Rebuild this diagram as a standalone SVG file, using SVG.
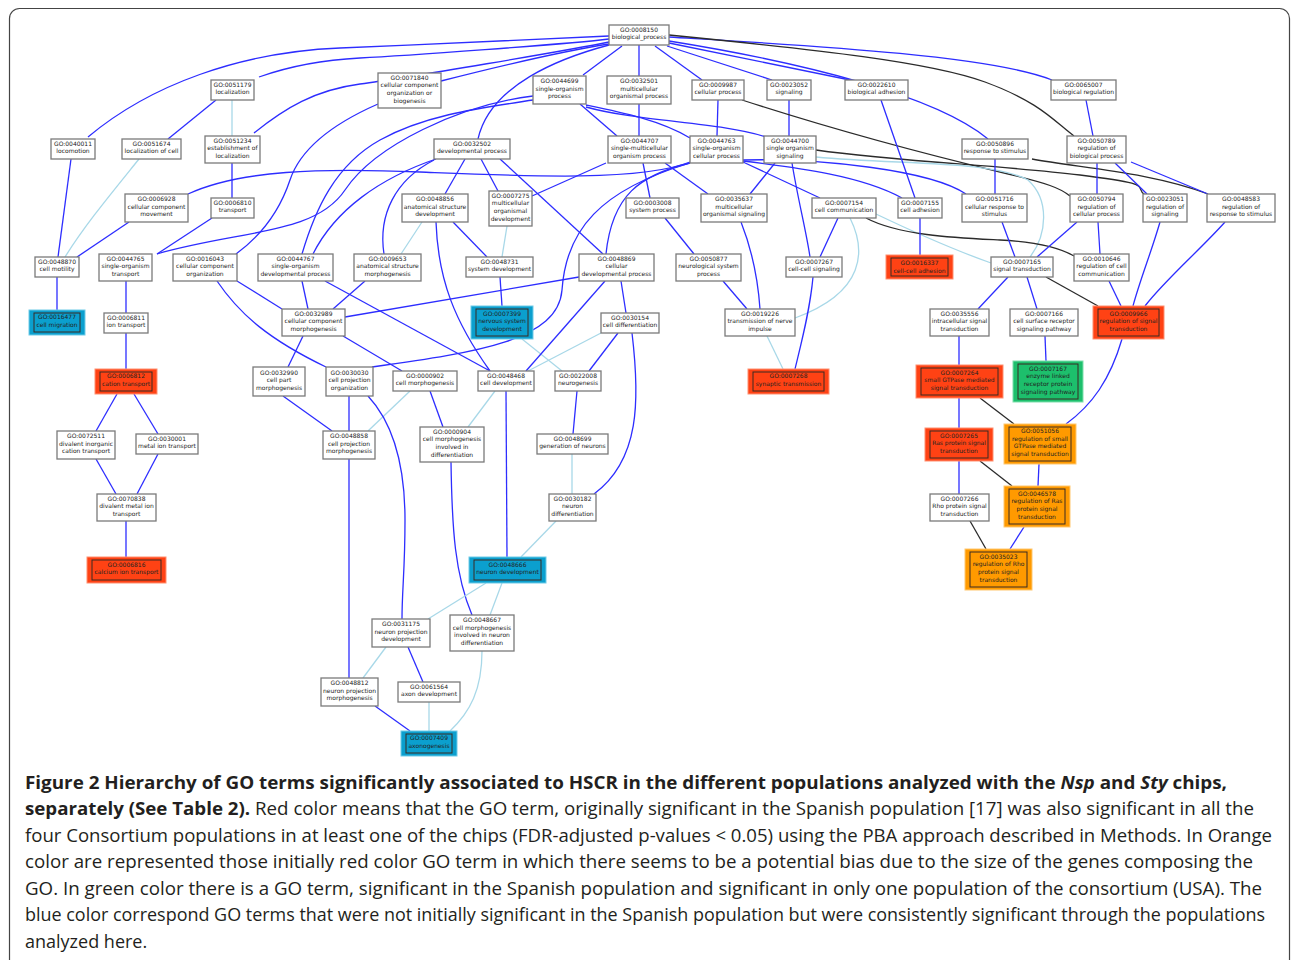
<svg xmlns="http://www.w3.org/2000/svg" width="1293" height="960" viewBox="0 0 1293 960">
<style>
.b{fill:#fff;stroke:#7a7a7a;stroke-width:1.3}
.t{font-family:"DejaVu Sans",sans-serif;font-size:6px;fill:#222;text-anchor:middle}
.e path{fill:none;stroke-width:1.3}
.e .bl{stroke:#2d2dff}
.e .lb{stroke:#a8d8e8}
.e .bk{stroke:#2b2b2b}
.red{fill:#ff4214;stroke:#ff8f70;stroke-width:1}
.blu{fill:#0b9fce;stroke:#6fcbe8;stroke-width:1}
.grn{fill:#1dbf6c;stroke:#7fe0ad;stroke-width:1}
.org{fill:#ff9a00;stroke:#ffc870;stroke-width:1}
.inr{fill:none;stroke:#3a2a22;stroke-width:1}
.cap{font-family:"Open Sans",sans-serif;font-size:18px;fill:#231f20}
</style>
<rect x="9.5" y="8.5" width="1280" height="975" rx="10" fill="none" stroke="#444" stroke-width="1.2"/>
<g id="connectors" class="e">
<path class="bl" d="M88,137 C150,85 240,52 340,48 S560,38 609,36"/>
<path class="bl" d="M259,77 C290,66 320,60 360,58 S570,44 609,39"/>
<path class="bl" d="M254,133 C285,108 315,90 360,84 S570,50 609,42"/>
<path class="bl" d="M441,81 C500,66 570,50 609,44"/>
<path class="bl" d="M622,46 L583,75"/>
<path class="bl" d="M639,45 L639,76"/>
<path class="bl" d="M609,45 C560,58 490,85 478,139"/>
<path class="bl" d="M655,46 L702,80"/>
<path class="bl" d="M667,46 L772,80"/>
<path class="bl" d="M669,43 L850,80"/>
<path class="bl" d="M669,41 C800,62 935,95 988,139"/>
<path class="bl" d="M669,37 C800,45 990,55 1052,80"/>
<path class="bk" d="M669,35 C820,50 930,62 985,82 S1055,122 1074,136"/>
<path class="bl" d="M580,104 L617,136"/>
<path class="bl" d="M586,105 C620,112 660,120 690,138"/>
<path class="bl" d="M586,107 C640,122 720,122 766,137"/>
<path class="bl" d="M157,254 C240,230 315,235 345,190 S460,105 533,96"/>
<path class="bl" d="M302,254 C315,210 335,165 380,140 S480,108 533,100"/>
<path class="bl" d="M313,254 C335,210 380,178 436,159"/>
<path class="bl" d="M434,160 C395,180 378,215 384,254"/>
<path class="bl" d="M378,104 C330,125 300,150 290,180 S262,235 236,254"/>
<path class="bl" d="M188,194 C240,170 320,168 420,172 S640,182 690,162"/>
<path class="bl" d="M690,163 C640,175 612,195 606,254"/>
<path class="bl" d="M690,163 C600,190 566,230 562,290 C558,340 480,352 372,367"/>
<path class="bl" d="M743,162 L820,198"/>
<path class="bl" d="M743,161 C800,168 862,176 902,198"/>
<path class="bl" d="M743,160 C820,158 930,170 966,194"/>
<path class="bl" d="M718,100 L717,136"/>
<path class="bl" d="M789,100 L789,136"/>
<path class="bl" d="M639,104 L639,136"/>
<path class="bk" d="M742,100 C850,135 950,160 1000,172 S1060,188 1070,196"/>
<path class="bk" d="M816,150 C900,162 1000,165 1080,175 S1132,186 1145,195"/>
<path class="lb" d="M816,157 C900,165 990,160 1028,180 C1050,200 1047,235 1030,257"/>
<path class="lb" d="M876,214 C920,235 960,252 991,263"/>
<path class="bk" d="M866,218 C900,236 960,238 1000,240 S1060,248 1074,256"/>
<path class="bl" d="M643,163 L650,198"/>
<path class="bl" d="M606,163 L532,196"/>
<path class="bl" d="M665,163 L708,194"/>
<path class="bl" d="M775,163 L750,194"/>
<path class="bl" d="M792,163 C798,200 806,230 810,257"/>
<path class="bl" d="M838,218 L820,257"/>
<path class="bl" d="M881,100 L915,198"/>
<path class="bl" d="M920,218 L920,255"/>
<path class="bl" d="M665,218 L694,254"/>
<path class="bl" d="M723,281 L747,309"/>
<path class="bl" d="M741,222 C752,250 758,280 760,309"/>
<path class="lb" d="M850,218 C866,250 866,292 795,318"/>
<path class="bl" d="M813,277 C810,310 802,340 795,369"/>
<path class="lb" d="M767,336 L783,369"/>
<path class="bl" d="M1086,100 L1093,136"/>
<path class="bl" d="M995,159 L995,194"/>
<path class="bk" d="M1032,159 C1080,168 1150,172 1208,194"/>
<path class="bl" d="M1097,163 L1097,194"/>
<path class="bl" d="M1115,163 L1147,194"/>
<path class="bl" d="M1131,162 L1208,194"/>
<path class="bl" d="M1002,222 L1015,257"/>
<path class="bl" d="M1077,222 L1037,257"/>
<path class="bl" d="M1098,222 L1100,254"/>
<path class="bk" d="M1046,277 L1098,306"/>
<path class="bl" d="M1109,281 L1121,306"/>
<path class="bl" d="M1160,222 C1152,250 1140,280 1133,306"/>
<path class="bl" d="M1225,222 C1200,250 1165,280 1145,306"/>
<path class="bl" d="M1008,277 L978,309"/>
<path class="bl" d="M1027,277 L1037,309"/>
<path class="bl" d="M1045,336 L1046,361"/>
<path class="bl" d="M1122,339 C1110,380 1092,405 1066,424"/>
<path class="bl" d="M959,336 L959,365"/>
<path class="bl" d="M959,398 L959,428"/>
<path class="bl" d="M959,461 L959,494"/>
<path class="bk" d="M980,398 L1014,424"/>
<path class="bk" d="M980,461 L1012,486"/>
<path class="bl" d="M1039,464 L1038,486"/>
<path class="bk" d="M970,521 L986,549"/>
<path class="bl" d="M1024,527 L1010,549"/>
<path class="bl" d="M216,100 L168,139"/>
<path class="lb" d="M232,100 L232,136"/>
<path class="bl" d="M71,159 L58,257"/>
<path class="lb" d="M139,159 C110,195 85,225 65,257"/>
<path class="bl" d="M129,222 L77,257"/>
<path class="bl" d="M232,163 L232,198"/>
<path class="bl" d="M212,218 L157,254"/>
<path class="bl" d="M57,277 L57,310"/>
<path class="bl" d="M126,281 L126,313"/>
<path class="bl" d="M126,333 L126,369"/>
<path class="bl" d="M117,394 L96,431"/>
<path class="bl" d="M134,394 L158,434"/>
<path class="bl" d="M96,459 L116,494"/>
<path class="bl" d="M158,454 L137,494"/>
<path class="bl" d="M126,521 L126,557"/>
<path class="bl" d="M237,281 L282,309"/>
<path class="bl" d="M217,281 C240,315 270,340 326,367"/>
<path class="bl" d="M302,281 L308,309"/>
<path class="bl" d="M325,281 L490,371"/>
<path class="bl" d="M365,281 L333,309"/>
<path class="bl" d="M579,277 L345,317"/>
<path class="bl" d="M303,336 L288,367"/>
<path class="bl" d="M343,336 L402,371"/>
<path class="lb" d="M422,222 L401,254"/>
<path class="bl" d="M453,222 L487,257"/>
<path class="lb" d="M507,226 L502,257"/>
<path class="bl" d="M436,222 C438,280 455,322 490,371"/>
<path class="bl" d="M465,159 L445,194"/>
<path class="bl" d="M481,159 L498,191"/>
<path class="bl" d="M500,159 L603,254"/>
<path class="bl" d="M500,277 L502,306"/>
<path class="lb" d="M522,339 L562,371"/>
<path class="bl" d="M621,281 L626,313"/>
<path class="bl" d="M605,281 L526,371"/>
<path class="lb" d="M601,333 L528,371"/>
<path class="bl" d="M618,333 L589,371"/>
<path class="bl" d="M632,333 C640,400 640,460 594,494"/>
<path class="bl" d="M577,391 L573,434"/>
<path class="lb" d="M572,454 L572,494"/>
<path class="bl" d="M283,396 L332,431"/>
<path class="bl" d="M349,396 L349,431"/>
<path class="lb" d="M410,391 L368,431"/>
<path class="bl" d="M430,391 L443,427"/>
<path class="lb" d="M495,391 L468,427"/>
<path class="bl" d="M506,391 L507,557"/>
<path class="bl" d="M368,396 C395,425 405,470 405,520 S402,590 402,619"/>
<path class="bl" d="M451,462 C452,530 455,575 472,615"/>
<path class="lb" d="M556,521 L521,557"/>
<path class="bl" d="M349,459 L349,678"/>
<path class="lb" d="M486,583 L428,619"/>
<path class="lb" d="M502,583 L490,615"/>
<path class="lb" d="M386,647 L363,678"/>
<path class="bl" d="M408,647 L423,682"/>
<path class="bl" d="M375,706 L410,731"/>
<path class="lb" d="M429,702 L429,731"/>
<path class="lb" d="M482,651 C482,690 470,712 450,731"/>
</g>
<g id="n0008150"><rect class="b" x="609" y="25" width="60" height="20"/><text class="t"><tspan x="639" y="31.8">GO:0008150</tspan><tspan x="639" y="39.4">biological_process</tspan></text></g>
<g id="n0071840"><rect class="b" x="378" y="73" width="63" height="35"/><text class="t"><tspan x="409.5" y="79.7">GO:0071840</tspan><tspan x="409.5" y="87.3">cellular component</tspan><tspan x="409.5" y="94.9">organization or</tspan><tspan x="409.5" y="102.5">biogenesis</tspan></text></g>
<g id="n0051179"><rect class="b" x="211" y="80" width="43" height="20"/><text class="t"><tspan x="232.5" y="86.8">GO:0051179</tspan><tspan x="232.5" y="94.4">localization</tspan></text></g>
<g id="n0044699"><rect class="b" x="533" y="76" width="53" height="28"/><text class="t"><tspan x="559.5" y="83">GO:0044699</tspan><tspan x="559.5" y="90.6">single-organism</tspan><tspan x="559.5" y="98.2">process</tspan></text></g>
<g id="n0032501"><rect class="b" x="607" y="76" width="64" height="28"/><text class="t"><tspan x="639" y="83">GO:0032501</tspan><tspan x="639" y="90.6">multicellular</tspan><tspan x="639" y="98.2">organismal process</tspan></text></g>
<g id="n0009987"><rect class="b" x="692" y="80" width="52" height="20"/><text class="t"><tspan x="718" y="86.8">GO:0009987</tspan><tspan x="718" y="94.4">cellular process</tspan></text></g>
<g id="n0023052"><rect class="b" x="767" y="80" width="44" height="20"/><text class="t"><tspan x="789" y="86.8">GO:0023052</tspan><tspan x="789" y="94.4">signaling</tspan></text></g>
<g id="n0022610"><rect class="b" x="845" y="80" width="63" height="20"/><text class="t"><tspan x="876.5" y="86.8">GO:0022610</tspan><tspan x="876.5" y="94.4">biological adhesion</tspan></text></g>
<g id="n0065007"><rect class="b" x="1051" y="80" width="65" height="20"/><text class="t"><tspan x="1083.5" y="86.8">GO:0065007</tspan><tspan x="1083.5" y="94.4">biological regulation</tspan></text></g>
<g id="n0040011"><rect class="b" x="51" y="139" width="44" height="20"/><text class="t"><tspan x="73" y="145.8">GO:0040011</tspan><tspan x="73" y="153.4">locomotion</tspan></text></g>
<g id="n0051674"><rect class="b" x="122" y="139" width="59" height="20"/><text class="t"><tspan x="151.5" y="145.8">GO:0051674</tspan><tspan x="151.5" y="153.4">localization of cell</tspan></text></g>
<g id="n0051234"><rect class="b" x="205" y="136" width="55" height="27"/><text class="t"><tspan x="232.5" y="142.5">GO:0051234</tspan><tspan x="232.5" y="150.1">establishment of</tspan><tspan x="232.5" y="157.7">localization</tspan></text></g>
<g id="n0032502"><rect class="b" x="434" y="139" width="76" height="20"/><text class="t"><tspan x="472" y="145.8">GO:0032502</tspan><tspan x="472" y="153.4">developmental process</tspan></text></g>
<g id="n0044707"><rect class="b" x="608" y="136" width="63" height="27"/><text class="t"><tspan x="639.5" y="142.5">GO:0044707</tspan><tspan x="639.5" y="150.1">single-multicellular</tspan><tspan x="639.5" y="157.7">organism process</tspan></text></g>
<g id="n0044763"><rect class="b" x="690" y="136" width="53" height="27"/><text class="t"><tspan x="716.5" y="142.5">GO:0044763</tspan><tspan x="716.5" y="150.1">single-organism</tspan><tspan x="716.5" y="157.7">cellular process</tspan></text></g>
<g id="n0044700"><rect class="b" x="764" y="136" width="52" height="27"/><text class="t"><tspan x="790" y="142.5">GO:0044700</tspan><tspan x="790" y="150.1">single organism</tspan><tspan x="790" y="157.7">signaling</tspan></text></g>
<g id="n0050896"><rect class="b" x="962" y="139" width="66" height="20"/><text class="t"><tspan x="995" y="145.8">GO:0050896</tspan><tspan x="995" y="153.4">response to stimulus</tspan></text></g>
<g id="n0050789"><rect class="b" x="1067" y="136" width="59" height="27"/><text class="t"><tspan x="1096.5" y="142.5">GO:0050789</tspan><tspan x="1096.5" y="150.1">regulation of</tspan><tspan x="1096.5" y="157.7">biological process</tspan></text></g>
<g id="n0006928"><rect class="b" x="125" y="194" width="63" height="28"/><text class="t"><tspan x="156.5" y="201">GO:0006928</tspan><tspan x="156.5" y="208.6">cellular component</tspan><tspan x="156.5" y="216.2">movement</tspan></text></g>
<g id="n0006810"><rect class="b" x="211" y="198" width="43" height="20"/><text class="t"><tspan x="232.5" y="204.8">GO:0006810</tspan><tspan x="232.5" y="212.4">transport</tspan></text></g>
<g id="n0048856"><rect class="b" x="402" y="194" width="66" height="28"/><text class="t"><tspan x="435" y="201">GO:0048856</tspan><tspan x="435" y="208.6">anatomical structure</tspan><tspan x="435" y="216.2">development</tspan></text></g>
<g id="n0007275"><rect class="b" x="489" y="191" width="43" height="35"/><text class="t"><tspan x="510.5" y="197.7">GO:0007275</tspan><tspan x="510.5" y="205.3">multicellular</tspan><tspan x="510.5" y="212.9">organismal</tspan><tspan x="510.5" y="220.5">development</tspan></text></g>
<g id="n0003008"><rect class="b" x="626" y="198" width="53" height="20"/><text class="t"><tspan x="652.5" y="204.8">GO:0003008</tspan><tspan x="652.5" y="212.4">system process</tspan></text></g>
<g id="n0035637"><rect class="b" x="701" y="194" width="66" height="28"/><text class="t"><tspan x="734" y="201">GO:0035637</tspan><tspan x="734" y="208.6">multicellular</tspan><tspan x="734" y="216.2">organismal signaling</tspan></text></g>
<g id="n0007154"><rect class="b" x="812" y="198" width="64" height="20"/><text class="t"><tspan x="844" y="204.8">GO:0007154</tspan><tspan x="844" y="212.4">cell communication</tspan></text></g>
<g id="n0007155"><rect class="b" x="898" y="198" width="44" height="20"/><text class="t"><tspan x="920" y="204.8">GO:0007155</tspan><tspan x="920" y="212.4">cell adhesion</tspan></text></g>
<g id="n0051716"><rect class="b" x="962" y="194" width="65" height="28"/><text class="t"><tspan x="994.5" y="201">GO:0051716</tspan><tspan x="994.5" y="208.6">cellular response to</tspan><tspan x="994.5" y="216.2">stimulus</tspan></text></g>
<g id="n0050794"><rect class="b" x="1070" y="194" width="53" height="28"/><text class="t"><tspan x="1096.5" y="201">GO:0050794</tspan><tspan x="1096.5" y="208.6">regulation of</tspan><tspan x="1096.5" y="216.2">cellular process</tspan></text></g>
<g id="n0023051"><rect class="b" x="1143" y="194" width="44" height="28"/><text class="t"><tspan x="1165" y="201">GO:0023051</tspan><tspan x="1165" y="208.6">regulation of</tspan><tspan x="1165" y="216.2">signaling</tspan></text></g>
<g id="n0048583"><rect class="b" x="1207" y="194" width="68" height="28"/><text class="t"><tspan x="1241" y="201">GO:0048583</tspan><tspan x="1241" y="208.6">regulation of</tspan><tspan x="1241" y="216.2">response to stimulus</tspan></text></g>
<g id="n0048870"><rect class="b" x="35" y="257" width="44" height="20"/><text class="t"><tspan x="57" y="263.8">GO:0048870</tspan><tspan x="57" y="271.4">cell motility</tspan></text></g>
<g id="n0044765"><rect class="b" x="99" y="254" width="53" height="27"/><text class="t"><tspan x="125.5" y="260.5">GO:0044765</tspan><tspan x="125.5" y="268.1">single-organism</tspan><tspan x="125.5" y="275.7">transport</tspan></text></g>
<g id="n0016043"><rect class="b" x="173" y="254" width="64" height="27"/><text class="t"><tspan x="205" y="260.5">GO:0016043</tspan><tspan x="205" y="268.1">cellular component</tspan><tspan x="205" y="275.7">organization</tspan></text></g>
<g id="n0044767"><rect class="b" x="258" y="254" width="75" height="27"/><text class="t"><tspan x="295.5" y="260.5">GO:0044767</tspan><tspan x="295.5" y="268.1">single-organism</tspan><tspan x="295.5" y="275.7">developmental process</tspan></text></g>
<g id="n0009653"><rect class="b" x="354" y="254" width="67" height="27"/><text class="t"><tspan x="387.5" y="260.5">GO:0009653</tspan><tspan x="387.5" y="268.1">anatomical structure</tspan><tspan x="387.5" y="275.7">morphogenesis</tspan></text></g>
<g id="n0048731"><rect class="b" x="466" y="257" width="67" height="20"/><text class="t"><tspan x="499.5" y="263.8">GO:0048731</tspan><tspan x="499.5" y="271.4">system development</tspan></text></g>
<g id="n0048869"><rect class="b" x="579" y="254" width="75" height="27"/><text class="t"><tspan x="616.5" y="260.5">GO:0048869</tspan><tspan x="616.5" y="268.1">cellular</tspan><tspan x="616.5" y="275.7">developmental process</tspan></text></g>
<g id="n0050877"><rect class="b" x="676" y="254" width="65" height="27"/><text class="t"><tspan x="708.5" y="260.5">GO:0050877</tspan><tspan x="708.5" y="268.1">neurological system</tspan><tspan x="708.5" y="275.7">process</tspan></text></g>
<g id="n0007267"><rect class="b" x="786" y="257" width="56" height="20"/><text class="t"><tspan x="814" y="263.8">GO:0007267</tspan><tspan x="814" y="271.4">cell-cell signaling</tspan></text></g>
<g id="n0016337"><rect class="red" x="886" y="255" width="67" height="24"/><rect class="inr" x="891" y="258" width="57" height="18"/><text class="t"><tspan x="919.5" y="265">GO:0016337</tspan><tspan x="919.5" y="272.6">cell-cell adhesion</tspan></text></g>
<g id="n0007165"><rect class="b" x="991" y="257" width="62" height="20"/><text class="t"><tspan x="1022" y="263.8">GO:0007165</tspan><tspan x="1022" y="271.4">signal transduction</tspan></text></g>
<g id="n0010646"><rect class="b" x="1074" y="254" width="55" height="27"/><text class="t"><tspan x="1101.5" y="260.5">GO:0010646</tspan><tspan x="1101.5" y="268.1">regulation of cell</tspan><tspan x="1101.5" y="275.7">communication</tspan></text></g>
<g id="n0016477"><rect class="blu" x="29" y="310" width="56" height="25"/><rect class="inr" x="34" y="313" width="46" height="19"/><text class="t"><tspan x="57" y="319.3">GO:0016477</tspan><tspan x="57" y="326.9">cell migration</tspan></text></g>
<g id="n0006811"><rect class="b" x="104" y="313" width="44" height="20"/><text class="t"><tspan x="126" y="319.8">GO:0006811</tspan><tspan x="126" y="327.4">ion transport</tspan></text></g>
<g id="n0032989"><rect class="b" x="282" y="309" width="63" height="27"/><text class="t"><tspan x="313.5" y="315.5">GO:0032989</tspan><tspan x="313.5" y="323.1">cellular component</tspan><tspan x="313.5" y="330.7">morphogenesis</tspan></text></g>
<g id="n0007399"><rect class="blu" x="471" y="306" width="62" height="33"/><rect class="inr" x="476" y="309" width="52" height="27"/><text class="t"><tspan x="502" y="315.5">GO:0007399</tspan><tspan x="502" y="323.1">nervous system</tspan><tspan x="502" y="330.7">development</tspan></text></g>
<g id="n0030154"><rect class="b" x="601" y="313" width="58" height="20"/><text class="t"><tspan x="630" y="319.8">GO:0030154</tspan><tspan x="630" y="327.4">cell differentiation</tspan></text></g>
<g id="n0019226"><rect class="b" x="725" y="309" width="70" height="27"/><text class="t"><tspan x="760" y="315.5">GO:0019226</tspan><tspan x="760" y="323.1">transmission of nerve</tspan><tspan x="760" y="330.7">impulse</tspan></text></g>
<g id="n0035556"><rect class="b" x="930" y="309" width="59" height="27"/><text class="t"><tspan x="959.5" y="315.5">GO:0035556</tspan><tspan x="959.5" y="323.1">intracellular signal</tspan><tspan x="959.5" y="330.7">transduction</tspan></text></g>
<g id="n0007166"><rect class="b" x="1010" y="309" width="68" height="27"/><text class="t"><tspan x="1044" y="315.5">GO:0007166</tspan><tspan x="1044" y="323.1">cell surface receptor</tspan><tspan x="1044" y="330.7">signaling pathway</tspan></text></g>
<g id="n0009966"><rect class="red" x="1093" y="306" width="71" height="33"/><rect class="inr" x="1098" y="309" width="61" height="27"/><text class="t"><tspan x="1128.5" y="315.5">GO:0009966</tspan><tspan x="1128.5" y="323.1">regulation of signal</tspan><tspan x="1128.5" y="330.7">transduction</tspan></text></g>
<g id="n0006812"><rect class="red" x="95" y="369" width="62" height="25"/><rect class="inr" x="100" y="372" width="52" height="19"/><text class="t"><tspan x="126" y="378.3">GO:0006812</tspan><tspan x="126" y="385.9">cation transport</tspan></text></g>
<g id="n0032990"><rect class="b" x="253" y="367" width="52" height="29"/><text class="t"><tspan x="279" y="374.5">GO:0032990</tspan><tspan x="279" y="382.1">cell part</tspan><tspan x="279" y="389.7">morphogenesis</tspan></text></g>
<g id="n0030030"><rect class="b" x="326" y="367" width="47" height="29"/><text class="t"><tspan x="349.5" y="374.5">GO:0030030</tspan><tspan x="349.5" y="382.1">cell projection</tspan><tspan x="349.5" y="389.7">organization</tspan></text></g>
<g id="n0000902"><rect class="b" x="393" y="371" width="64" height="20"/><text class="t"><tspan x="425" y="377.8">GO:0000902</tspan><tspan x="425" y="385.4">cell morphogenesis</tspan></text></g>
<g id="n0048468"><rect class="b" x="478" y="371" width="56" height="20"/><text class="t"><tspan x="506" y="377.8">GO:0048468</tspan><tspan x="506" y="385.4">cell development</tspan></text></g>
<g id="n0022008"><rect class="b" x="555" y="371" width="46" height="20"/><text class="t"><tspan x="578" y="377.8">GO:0022008</tspan><tspan x="578" y="385.4">neurogenesis</tspan></text></g>
<g id="n0007268"><rect class="red" x="748" y="369" width="81" height="25"/><rect class="inr" x="753" y="372" width="71" height="19"/><text class="t"><tspan x="788.5" y="378.3">GO:0007268</tspan><tspan x="788.5" y="385.9">synaptic transmission</tspan></text></g>
<g id="n0007264"><rect class="red" x="916" y="365" width="87" height="33"/><rect class="inr" x="921" y="368" width="77" height="27"/><text class="t"><tspan x="959.5" y="374.5">GO:0007264</tspan><tspan x="959.5" y="382.1">small GTPase mediated</tspan><tspan x="959.5" y="389.7">signal transduction</tspan></text></g>
<g id="n0007167"><rect class="grn" x="1013" y="361" width="70" height="41"/><rect class="inr" x="1018" y="364" width="60" height="35"/><text class="t"><tspan x="1048" y="370.7">GO:0007167</tspan><tspan x="1048" y="378.3">enzyme linked</tspan><tspan x="1048" y="385.9">receptor protein</tspan><tspan x="1048" y="393.5">signaling pathway</tspan></text></g>
<g id="n0072511"><rect class="b" x="57" y="431" width="58" height="28"/><text class="t"><tspan x="86" y="438">GO:0072511</tspan><tspan x="86" y="445.6">divalent inorganic</tspan><tspan x="86" y="453.2">cation transport</tspan></text></g>
<g id="n0030001"><rect class="b" x="136" y="434" width="62" height="20"/><text class="t"><tspan x="167" y="440.8">GO:0030001</tspan><tspan x="167" y="448.4">metal ion transport</tspan></text></g>
<g id="n0048858"><rect class="b" x="323" y="431" width="52" height="28"/><text class="t"><tspan x="349" y="438">GO:0048858</tspan><tspan x="349" y="445.6">cell projection</tspan><tspan x="349" y="453.2">morphogenesis</tspan></text></g>
<g id="n0000904"><rect class="b" x="420" y="427" width="64" height="35"/><text class="t"><tspan x="452" y="433.7">GO:0000904</tspan><tspan x="452" y="441.3">cell morphogenesis</tspan><tspan x="452" y="448.9">involved in</tspan><tspan x="452" y="456.5">differentiation</tspan></text></g>
<g id="n0048699"><rect class="b" x="537" y="434" width="71" height="20"/><text class="t"><tspan x="572.5" y="440.8">GO:0048699</tspan><tspan x="572.5" y="448.4">generation of neurons</tspan></text></g>
<g id="n0007265"><rect class="red" x="925" y="428" width="68" height="33"/><rect class="inr" x="930" y="431" width="58" height="27"/><text class="t"><tspan x="959" y="437.5">GO:0007265</tspan><tspan x="959" y="445.1">Ras protein signal</tspan><tspan x="959" y="452.7">transduction</tspan></text></g>
<g id="n0051056"><rect class="org" x="1004" y="424" width="72" height="40"/><rect class="inr" x="1009" y="427" width="62" height="34"/><text class="t"><tspan x="1040" y="433.2">GO:0051056</tspan><tspan x="1040" y="440.8">regulation of small</tspan><tspan x="1040" y="448.4">GTPase mediated</tspan><tspan x="1040" y="456">signal transduction</tspan></text></g>
<g id="n0070838"><rect class="b" x="97" y="494" width="59" height="27"/><text class="t"><tspan x="126.5" y="500.5">GO:0070838</tspan><tspan x="126.5" y="508.1">divalent metal ion</tspan><tspan x="126.5" y="515.7">transport</tspan></text></g>
<g id="n0030182"><rect class="b" x="549" y="494" width="47" height="27"/><text class="t"><tspan x="572.5" y="500.5">GO:0030182</tspan><tspan x="572.5" y="508.1">neuron</tspan><tspan x="572.5" y="515.7">differentiation</tspan></text></g>
<g id="n0007266"><rect class="b" x="930" y="494" width="59" height="27"/><text class="t"><tspan x="959.5" y="500.5">GO:0007266</tspan><tspan x="959.5" y="508.1">Rho protein signal</tspan><tspan x="959.5" y="515.7">transduction</tspan></text></g>
<g id="n0046578"><rect class="org" x="1004" y="486" width="66" height="41"/><rect class="inr" x="1009" y="489" width="56" height="35"/><text class="t"><tspan x="1037" y="495.7">GO:0046578</tspan><tspan x="1037" y="503.3">regulation of Ras</tspan><tspan x="1037" y="510.9">protein signal</tspan><tspan x="1037" y="518.5">transduction</tspan></text></g>
<g id="n0006816"><rect class="red" x="87" y="557" width="79" height="26"/><rect class="inr" x="92" y="560" width="69" height="20"/><text class="t"><tspan x="126.5" y="566.8">GO:0006816</tspan><tspan x="126.5" y="574.4">calcium ion transport</tspan></text></g>
<g id="n0048666"><rect class="blu" x="469" y="557" width="77" height="26"/><rect class="inr" x="474" y="560" width="67" height="20"/><text class="t"><tspan x="507.5" y="566.8">GO:0048666</tspan><tspan x="507.5" y="574.4">neuron development</tspan></text></g>
<g id="n0035023"><rect class="org" x="965" y="549" width="67" height="41"/><rect class="inr" x="970" y="552" width="57" height="35"/><text class="t"><tspan x="998.5" y="558.7">GO:0035023</tspan><tspan x="998.5" y="566.3">regulation of Rho</tspan><tspan x="998.5" y="573.9">protein signal</tspan><tspan x="998.5" y="581.5">transduction</tspan></text></g>
<g id="n0031175"><rect class="b" x="372" y="619" width="58" height="28"/><text class="t"><tspan x="401" y="626">GO:0031175</tspan><tspan x="401" y="633.6">neuron projection</tspan><tspan x="401" y="641.2">development</tspan></text></g>
<g id="n0048667"><rect class="b" x="450" y="615" width="64" height="36"/><text class="t"><tspan x="482" y="622.2">GO:0048667</tspan><tspan x="482" y="629.8">cell morphogenesis</tspan><tspan x="482" y="637.4">involved in neuron</tspan><tspan x="482" y="645">differentiation</tspan></text></g>
<g id="n0048812"><rect class="b" x="321" y="678" width="57" height="28"/><text class="t"><tspan x="349.5" y="685">GO:0048812</tspan><tspan x="349.5" y="692.6">neuron projection</tspan><tspan x="349.5" y="700.2">morphogenesis</tspan></text></g>
<g id="n0061564"><rect class="b" x="398" y="682" width="62" height="20"/><text class="t"><tspan x="429" y="688.8">GO:0061564</tspan><tspan x="429" y="696.4">axon development</tspan></text></g>
<g id="n0007409"><rect class="blu" x="401" y="731" width="56" height="25"/><rect class="inr" x="406" y="734" width="46" height="19"/><text class="t"><tspan x="429" y="740.3">GO:0007409</tspan><tspan x="429" y="747.9">axonogenesis</tspan></text></g>
<g id="caption">
<text class="cap" x="25" y="789" textLength="1202" lengthAdjust="spacingAndGlyphs" font-weight="bold">Figure 2 Hierarchy of GO terms significantly associated to HSCR in the different populations analyzed with the <tspan font-style="italic">Nsp</tspan> and <tspan font-style="italic">Sty</tspan> chips,</text>
<text class="cap" x="25" y="815" textLength="1229" lengthAdjust="spacingAndGlyphs"><tspan font-weight="bold">separately (See Table 2).</tspan> Red color means that the GO term, originally significant in the Spanish population [17] was also significant in all the</text>
<text class="cap" x="25" y="842" textLength="1247" lengthAdjust="spacingAndGlyphs">four Consortium populations in at least one of the chips (FDR-adjusted p-values &lt; 0.05) using the PBA approach described in Methods. In Orange</text>
<text class="cap" x="25" y="868" textLength="1228" lengthAdjust="spacingAndGlyphs">color are represented those initially red color GO term in which there seems to be a potential bias due to the size of the genes composing the</text>
<text class="cap" x="25" y="895" textLength="1237" lengthAdjust="spacingAndGlyphs">GO. In green color there is a GO term, significant in the Spanish population and significant in only one population of the consortium (USA). The</text>
<text class="cap" x="25" y="921" textLength="1240" lengthAdjust="spacingAndGlyphs">blue color correspond GO terms that were not initially significant in the Spanish population but were consistently significant through the populations</text>
<text class="cap" x="25" y="948">analyzed here.</text>
</g>
</svg>
